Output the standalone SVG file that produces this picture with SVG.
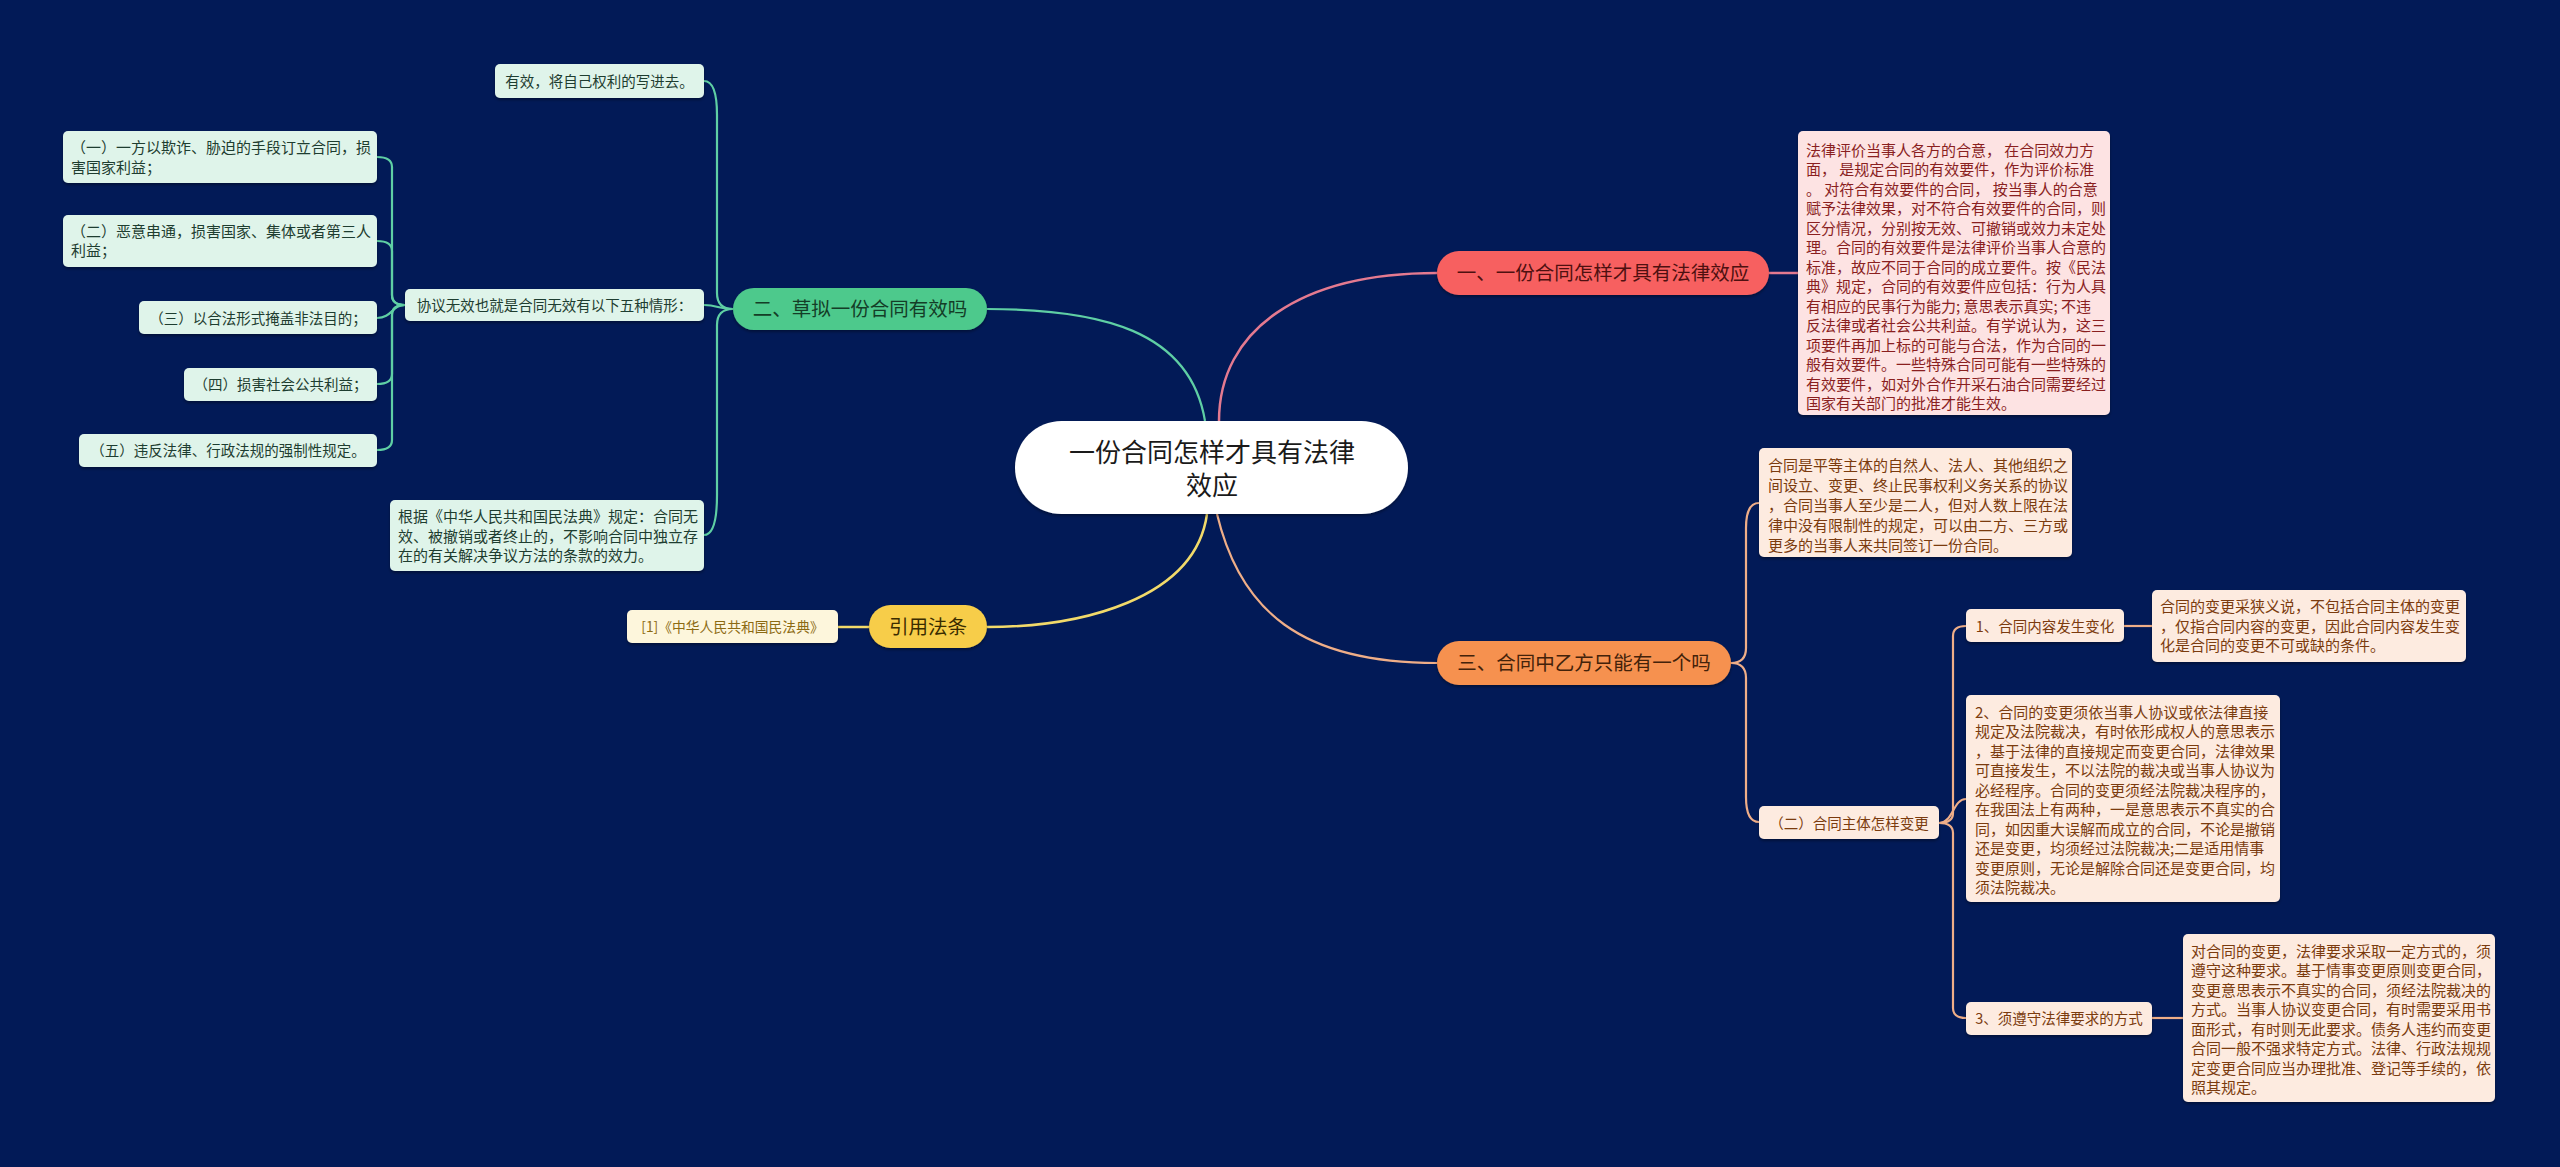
<svg xmlns="http://www.w3.org/2000/svg" width="2560" height="1167" viewBox="0 0 2560 1167">
<defs>
<filter id="sh" x="-10%" y="-20%" width="120%" height="150%">
<feDropShadow dx="0" dy="2" stdDeviation="1.5" flood-color="#000" flood-opacity="0.35"/>
</filter>
<style>
text{font-family:"Noto Sans CJK SC","Noto Sans",sans-serif;}
.c{text-anchor:middle;}
.lg{stroke:#5fcfa4;stroke-width:2.2;fill:none;}
.lr{stroke:#e47a90;stroke-width:2.5;fill:none;}
.lo{stroke:#efae88;stroke-width:2.2;fill:none;}
.ly{stroke:#f2da6a;stroke-width:2.5;fill:none;}
.bg{fill:#dff4ea;filter:url(#sh);}
.tg{fill:#1e3d30;font-size:14.5px;}
.tg15{fill:#1e3d30;font-size:15px;}
.bo{fill:#fdebe0;filter:url(#sh);}
.to{fill:#7b3b0e;font-size:14.5px;}
.to15{fill:#7b3b0e;font-size:15px;}
.pill{filter:url(#sh);}
.tp{font-size:19.5px;}
</style>
</defs>
<rect x="0" y="0" width="2560" height="1167" fill="#021a57"/>

<g id="connectors">
<path class="lr" d="M1219 421 C1219 330 1300 273 1437 273"/>
<path class="lg" d="M1205 421 C1190 330 1100 309 987 309"/>
<path class="lo" d="M1217 514 C1240 610 1300 663 1437 663"/>
<path class="ly" d="M1207 514 C1195 600 1080 627 987 627"/>
<path class="lr" d="M1769 273 H1798"/>
<path class="lg" d="M733 309 Q717 309 717 293 V115 Q717 81 704 81"/>
<path class="lg" d="M733 309 C718 309 718 305 704 305"/>
<path class="lg" d="M733 309 Q717 309 717 325 V495 Q717 535 704 535"/>
<path class="lg" d="M405 305 Q392 305 392 295 V167 Q392 157 377 157"/>
<path class="lg" d="M405 305 Q392 305 392 295 V251 Q392 241 377 241"/>
<path class="lg" d="M405 305 C392 305 392 318 377 318"/>
<path class="lg" d="M405 305 Q392 305 392 315 V374 Q392 384 377 384"/>
<path class="lg" d="M405 305 Q392 305 392 315 V440 Q392 450 377 450"/>
<path class="lo" d="M1731 663 Q1746 663 1746 648 V528 Q1746 503 1759 503"/>
<path class="lo" d="M1731 663 Q1746 663 1746 678 V797 Q1746 822 1759 822"/>
<path class="lo" d="M1939 823 Q1953 823 1953 813 V636 Q1953 626 1966 626"/>
<path class="lo" d="M1939 823 C1953 823 1953 799 1966 799"/>
<path class="lo" d="M1939 823 Q1953 823 1953 833 V1008 Q1953 1018 1966 1018"/>
<path class="lo" d="M2124 626 H2152"/>
<path class="lo" d="M2152 1018 H2183"/>
<path class="ly" d="M869 627 H838"/>
</g>

<g id="center">
<rect x="1015" y="421" width="393" height="93" rx="46.5" fill="#ffffff" filter="url(#sh)"/>
<text class="c" x="1212" y="462" font-size="26" fill="#1a1a1a">一份合同怎样才具有法律</text>
<text class="c" x="1212" y="495" font-size="26" fill="#1a1a1a">效应</text>
</g>

<g id="n1">
<rect class="pill" x="1437" y="251" width="332" height="44" rx="22" fill="#f76161"/>
<text class="c tp" x="1603" y="280.4" fill="#4e1010">一、一份合同怎样才具有法律效应</text>
</g>
<g id="n1-text">
<rect x="1798" y="131" width="312" height="284" rx="5" fill="#fde3e3" filter="url(#sh)"/>
<text font-size="15" fill="#8a1f1f">
<tspan x="1806" y="155.7">法律评价当事人各方的合意， 在合同效力方</tspan>
<tspan x="1806" y="175.2">面， 是规定合同的有效要件，作为评价标准</tspan>
<tspan x="1806" y="194.7">。 对符合有效要件的合同， 按当事人的合意</tspan>
<tspan x="1806" y="214.2">赋予法律效果，对不符合有效要件的合同，则</tspan>
<tspan x="1806" y="233.7">区分情况，分别按无效、可撤销或效力未定处</tspan>
<tspan x="1806" y="253.2">理。合同的有效要件是法律评价当事人合意的</tspan>
<tspan x="1806" y="272.7">标准，故应不同于合同的成立要件。按《民法</tspan>
<tspan x="1806" y="292.2">典》规定，合同的有效要件应包括：行为人具</tspan>
<tspan x="1806" y="311.7">有相应的民事行为能力; 意思表示真实; 不违</tspan>
<tspan x="1806" y="331.2">反法律或者社会公共利益。有学说认为，这三</tspan>
<tspan x="1806" y="350.7">项要件再加上标的可能与合法，作为合同的一</tspan>
<tspan x="1806" y="370.2">般有效要件。一些特殊合同可能有一些特殊的</tspan>
<tspan x="1806" y="389.7">有效要件，如对外合作开采石油合同需要经过</tspan>
<tspan x="1806" y="409.2">国家有关部门的批准才能生效。</tspan>
</text>
</g>

<g id="n3">
<rect class="pill" x="1437" y="641" width="294" height="44" rx="22" fill="#f6914f"/>
<text class="c tp" x="1584" y="670.4" fill="#43220a">三、合同中乙方只能有一个吗</text>
</g>
<g id="n3-1">
<rect class="bo" x="1759" y="448" width="313" height="109" rx="5"/>
<text class="to15">
<tspan x="1768" y="470.7">合同是平等主体的自然人、法人、其他组织之</tspan>
<tspan x="1768" y="490.7">间设立、变更、终止民事权利义务关系的协议</tspan>
<tspan x="1768" y="510.7">，合同当事人至少是二人，但对人数上限在法</tspan>
<tspan x="1768" y="530.7">律中没有限制性的规定，可以由二方、三方或</tspan>
<tspan x="1768" y="550.7">更多的当事人来共同签订一份合同。</tspan>
</text>
</g>
<g id="n3-2">
<rect class="bo" x="1759" y="806" width="180" height="33" rx="5"/>
<text class="c to" x="1849" y="828.5">（二）合同主体怎样变更</text>
</g>
<g id="n3-2-1">
<rect class="bo" x="1966" y="609" width="158" height="33" rx="5"/>
<text class="c to" x="2045" y="631.5">1、合同内容发生变化</text>
</g>
<g id="n3-2-1-1">
<rect class="bo" x="2152" y="590" width="314" height="72" rx="5"/>
<text class="to15">
<tspan x="2160" y="612.2">合同的变更采狭义说，不包括合同主体的变更</tspan>
<tspan x="2160" y="631.7">，仅指合同内容的变更，因此合同内容发生变</tspan>
<tspan x="2160" y="651.2">化是合同的变更不可或缺的条件。</tspan>
</text>
</g>
<g id="n3-2-2">
<rect class="bo" x="1966" y="695" width="314" height="207" rx="5"/>
<text class="to15">
<tspan x="1975" y="717.7">2、合同的变更须依当事人协议或依法律直接</tspan>
<tspan x="1975" y="737.2">规定及法院裁决，有时依形成权人的意思表示</tspan>
<tspan x="1975" y="756.7">，基于法律的直接规定而变更合同，法律效果</tspan>
<tspan x="1975" y="776.2">可直接发生，不以法院的裁决或当事人协议为</tspan>
<tspan x="1975" y="795.7">必经程序。合同的变更须经法院裁决程序的，</tspan>
<tspan x="1975" y="815.2">在我国法上有两种，一是意思表示不真实的合</tspan>
<tspan x="1975" y="834.7">同，如因重大误解而成立的合同，不论是撤销</tspan>
<tspan x="1975" y="854.2">还是变更，均须经过法院裁决;二是适用情事</tspan>
<tspan x="1975" y="873.7">变更原则，无论是解除合同还是变更合同，均</tspan>
<tspan x="1975" y="893.2">须法院裁决。</tspan>
</text>
</g>
<g id="n3-2-3">
<rect class="bo" x="1966" y="1002" width="186" height="33" rx="5"/>
<text class="c to" x="2059" y="1023.5">3、须遵守法律要求的方式</text>
</g>
<g id="n3-2-3-1">
<rect class="bo" x="2183" y="934" width="312" height="168" rx="5"/>
<text class="to15">
<tspan x="2191" y="956.7">对合同的变更，法律要求采取一定方式的，须</tspan>
<tspan x="2191" y="976.2">遵守这种要求。基于情事变更原则变更合同，</tspan>
<tspan x="2191" y="995.7">变更意思表示不真实的合同，须经法院裁决的</tspan>
<tspan x="2191" y="1015.2">方式。当事人协议变更合同，有时需要采用书</tspan>
<tspan x="2191" y="1034.7">面形式，有时则无此要求。债务人违约而变更</tspan>
<tspan x="2191" y="1054.2">合同一般不强求特定方式。法律、行政法规规</tspan>
<tspan x="2191" y="1073.7">定变更合同应当办理批准、登记等手续的，依</tspan>
<tspan x="2191" y="1093.2">照其规定。</tspan>
</text>
</g>

<g id="n2">
<rect class="pill" x="733" y="288" width="254" height="42" rx="21" fill="#4ec98c"/>
<text class="c tp" x="860" y="316.4" fill="#143d27">二、草拟一份合同有效吗</text>
</g>
<g id="n2-1">
<rect class="bg" x="495" y="64" width="209" height="34" rx="5"/>
<text class="c tg" x="599.5" y="86.5">有效，将自己权利的写进去。</text>
</g>
<g id="n2-2">
<rect class="bg" x="405" y="289" width="299" height="32" rx="5"/>
<text class="c tg" x="554.5" y="310.5">协议无效也就是合同无效有以下五种情形：</text>
</g>
<g id="n2-3">
<rect class="bg" x="390" y="500" width="314" height="71" rx="5"/>
<text class="tg15">
<tspan x="398" y="522.2">根据《中华人民共和国民法典》规定：合同无</tspan>
<tspan x="398" y="541.7">效、被撤销或者终止的，不影响合同中独立存</tspan>
<tspan x="398" y="561.2">在的有关解决争议方法的条款的效力。</tspan>
</text>
</g>
<g id="n2-2-1">
<rect class="bg" x="63" y="131" width="314" height="52" rx="5"/>
<text class="tg15">
<tspan x="71" y="153.2">（一）一方以欺诈、胁迫的手段订立合同，损</tspan>
<tspan x="71" y="172.7">害国家利益；</tspan>
</text>
</g>
<g id="n2-2-2">
<rect class="bg" x="63" y="215" width="314" height="52" rx="5"/>
<text class="tg15">
<tspan x="71" y="236.7">（二）恶意串通，损害国家、集体或者第三人</tspan>
<tspan x="71" y="256.2">利益；</tspan>
</text>
</g>
<g id="n2-2-3">
<rect class="bg" x="139" y="301" width="238" height="33" rx="5"/>
<text class="c tg" x="258" y="323.5">（三）以合法形式掩盖非法目的；</text>
</g>
<g id="n2-2-4">
<rect class="bg" x="184" y="368" width="193" height="33" rx="5"/>
<text class="c tg" x="280.5" y="389.5">（四）损害社会公共利益；</text>
</g>
<g id="n2-2-5">
<rect class="bg" x="79" y="434" width="298" height="33" rx="5"/>
<text class="c tg" x="228" y="455.5">（五）违反法律、行政法规的强制性规定。</text>
</g>

<g id="n4">
<rect class="pill" x="869" y="605" width="118" height="43" rx="21.5" fill="#f7cd48"/>
<text class="c tp" x="928" y="634.4" fill="#3a2c00">引用法条</text>
</g>
<g id="n4-1">
<rect x="627" y="610" width="211" height="33" rx="5" fill="#fdf6dc" filter="url(#sh)"/>
<text class="c" x="732.5" y="632.3" font-size="13.8" fill="#8c6a12">[1]《中华人民共和国民法典》</text>
</g>
</svg>
